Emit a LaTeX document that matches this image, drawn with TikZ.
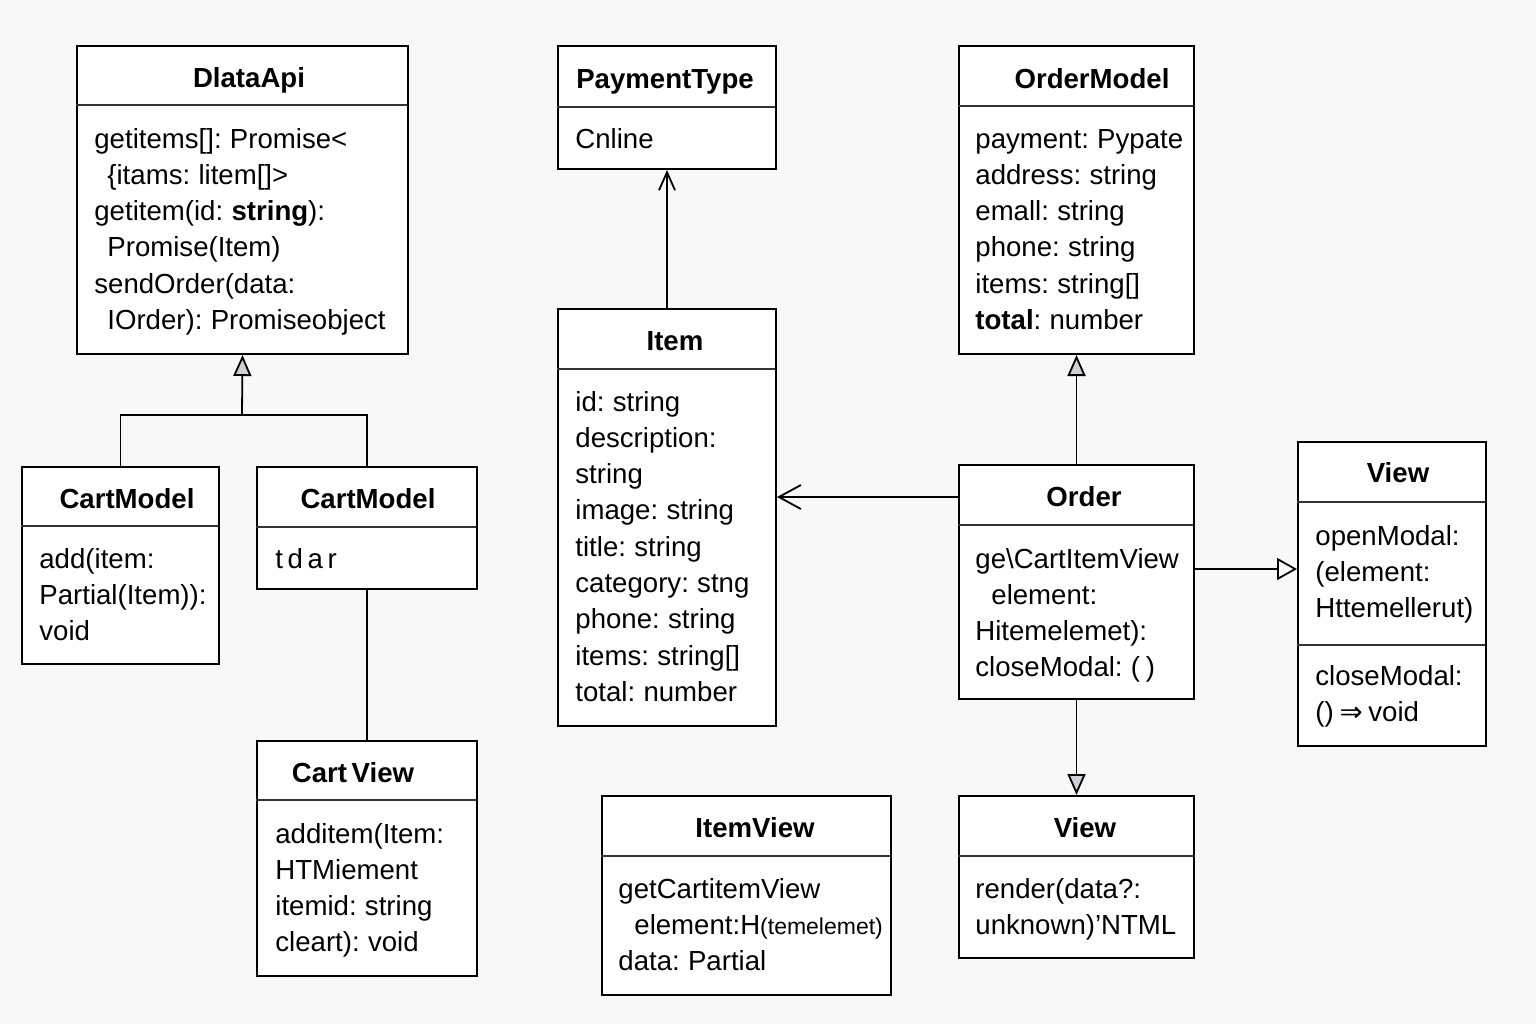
\documentclass[tikz,border=0pt]{standalone}
\usepackage{fontspec}
\setmainfont{Liberation Sans}[WordSpace=0.75]
\newfontfamily\dejavu{DejaVu Sans}
\usetikzlibrary{arrows.meta}
\definecolor{bgc}{RGB}{248,248,248}
\definecolor{tipgray}{RGB}{205,208,212}
\newcommand\umlcls[6]{%
  \node[clsbox, minimum width={(#4-#2)*0.5pt}, minimum height={(#5-#3)*0.5pt}] (#1) at (#2,#3) {};
  \draw[sepline] (#2,#6) -- (#4,#6);
}
\newcommand\clsbody[4]{%
  \foreach \t [count=\i] in {#4} {
    \node[bodytext] (#1-\i) at (#2,{#3+10+36.3*(\i-1)}) {\t};
  }
}
\begin{document}
\begin{tikzpicture}[x=0.5pt,y=-0.5pt,
  clsbox/.style={draw=black, line width=1pt, fill=white, anchor=north west, inner sep=0pt},
  sepline/.style={draw=black!80, line width=0.8pt},
  bodytext/.style={anchor=base west, inner sep=0pt, font=\fontsize{13.8}{16}\selectfont},
  titletext/.style={anchor=base, inner sep=0pt, font=\fontsize{13.8}{16}\selectfont\bfseries},
  conn/.style={draw=black, line width=0.9pt},
  inherit/.style={conn, -{Triangle[length=10.5pt, width=9pt, fill=tipgray, line width=0.9pt]}},
  inheritw/.style={conn, -{Triangle[length=10pt, width=11pt, fill=white, line width=0.9pt]}},
  assoc/.style={conn, -{Straight Barb[length=9pt, width=8pt, line width=0.9pt]}},
  assocl/.style={conn, -{Straight Barb[length=11pt, width=12pt, line width=0.9pt]}}
]
\fill[bgc] (0,0) rectangle (1536,1024);
\useasboundingbox (0,0) rectangle (1536,1024);

% boxes
\umlcls{dataapi}{76}{45}{407}{353}{105}
\umlcls{pay}{557}{45}{775}{168}{107}
\umlcls{ordm}{958}{45}{1193}{353}{106}
\umlcls{cm1}{21}{466}{218}{663}{526}
\umlcls{cm2}{256}{466}{476}{588}{527}
\umlcls{item}{557}{308}{775}{725}{369}
\umlcls{order}{958}{464}{1193}{698}{525}
\umlcls{viewr}{1297}{441}{1485}{745}{502}
\draw[sepline] (1297,645) -- (1485,645);
\umlcls{cartview}{256}{740}{476}{975}{800}
\umlcls{itemview}{601}{795}{890}{994}{856}
\umlcls{viewb}{958}{795}{1193}{957}{856}

% titles
\node[titletext] (t-dataapi) at (249,87) {DlataApi};
\node[titletext] (t-pay) at (665,88) {PaymentType};
\node[titletext] (t-ordm) at (1092,88) {OrderModel};
\node[titletext] (t-cm1) at (127,508) {CartModel};
\node[titletext] (t-cm2) at (368,508) {CartModel};
\node[titletext] (t-item) at (675,350) {Item};
\node[titletext] (t-order) at (1084,506) {Order};
\node[titletext] (t-viewr) at (1398,482) {View};
\node[titletext] (t-cartview) at (353,782) {Cart\,View};
\node[titletext] (t-itemview) at (755,837) {ItemView};
\node[titletext] (t-viewb) at (1085,837) {View};

% bodies
\clsbody{b-dataapi}{94}{138}{{getitems[]: Promise<},{\hspace{6.5pt}\{itams: litem[]>},{getitem(id: \textbf{string}):},{\hspace{6.5pt}Promise(Item)},{sendOrder(data:},{\hspace{6.5pt}IOrder): Promiseobject}}
\clsbody{b-pay}{575}{138}{{Cnline}}
\clsbody{b-ordm}{975}{138}{{payment: Pypate},{address: string},{emall: string},{phone: string},{items: string[]},{\textbf{total}: number}}
\clsbody{b-cm1}{39}{558}{{add(item:},{Partial(Item)):},{void}}
\clsbody{b-cm2}{275}{558}{{t\,d\,a\,r}}
\clsbody{b-item}{575}{401}{{id: string},{description:},{string},{image: string},{title: string},{category: stng},{phone: string},{items: string[]},{total: number}}
\clsbody{b-order}{975}{558}{{ge\textbackslash CartItemView},{\hspace{8pt}element:},{Hitemelemet):},{closeModal: ( )}}
\clsbody{b-viewr}{1315}{535}{{openModal:},{(element:},{Httemellerut)}}
\clsbody{b-viewr2}{1315}{675}{{closeModal:},{() {\dejavu ⇒} void}}
\clsbody{b-cartview}{275}{833}{{additem(Item:},{HTMiement},{itemid: string},{cleart): void}}
\clsbody{b-itemview}{618}{888}{{getCartitemView},{\hspace{8pt}element:H{\fontsize{11.5}{14}\selectfont(temelemet)}},{data: Partial}}
\clsbody{b-viewb}{975}{888}{{render(data?:},{unknown)'NTML}}

% connectors
\coordinate (jn) at (242,415);
\draw[conn] (cm1.north) |- (jn) -| (cm2.north);
\draw[inherit] (jn) -- (dataapi.south);
\draw[conn] (cm2.south) -- (cartview.north);
\draw[assoc] (item.north) -- (pay.south);
\draw[inherit] (order.north) -- (ordm.south);
\coordinate (oi) at (958,497);
\draw[assocl] (order.west |- oi) -- (item.east |- oi);
\coordinate (ov) at (1193,569);
\draw[inheritw] (order.east |- ov) -- (viewr.west |- ov);
\draw[inherit] (order.south) -- (viewb.north);
\end{tikzpicture}
\end{document}
